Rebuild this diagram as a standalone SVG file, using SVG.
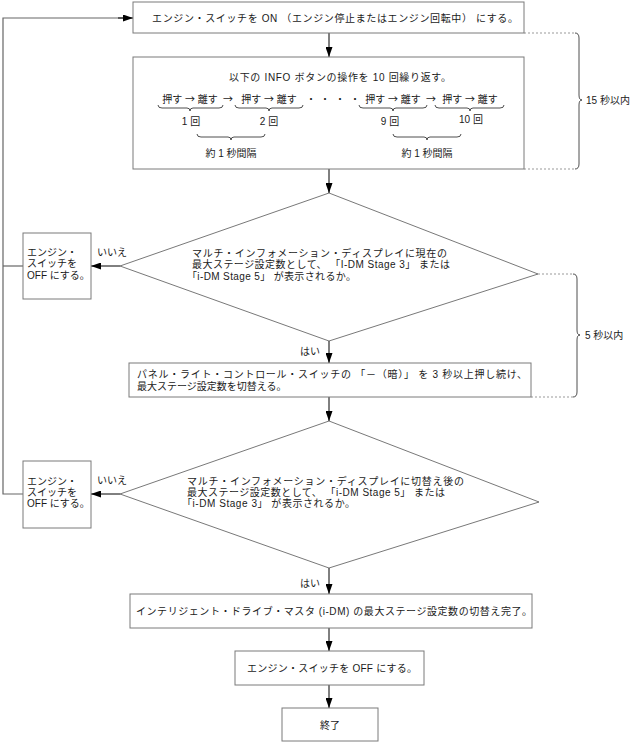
<svg xmlns="http://www.w3.org/2000/svg" width="632" height="742" viewBox="0 0 632 742">
<defs>
<style>
.box{fill:#fff;stroke:#7a7a7a;stroke-width:1}
.dia{fill:#fff;stroke:#555;stroke-width:0.8}
.t{font-family:"Liberation Sans","Noto Sans CJK JP",sans-serif;font-size:10px;fill:#1a1a1a}
.ar{font-family:"Noto Sans CJK JP",sans-serif}
.m{text-anchor:middle}
.c{stroke:#000;stroke-width:1;fill:none}
.loop{stroke:#666;stroke-width:1.2;fill:none}
.dash{stroke:#999;stroke-width:1;stroke-dasharray:2 2;fill:none}
.br{stroke:#222;stroke-width:0.8;fill:none}
</style>
<marker id="ah" markerUnits="userSpaceOnUse" markerWidth="10" markerHeight="7" refX="10" refY="3.5" orient="auto">
<path d="M0,0 L10,3.5 L0,7 z" fill="#000"/>
</marker>
</defs>
<rect width="632" height="742" fill="#fff"/>

<g id="connectors">
<path class="loop" d="M23,494 H3 V18 H123"/>
<path class="c" d="M118,18 H133" marker-end="url(#ah)"/>
<path class="loop" d="M23,266 H3"/>
<path class="c" d="M329,33 V57" marker-end="url(#ah)"/>
<path class="c" d="M329,169 V193" marker-end="url(#ah)"/>
<path class="c" d="M329,341 V363" marker-end="url(#ah)"/>
<text class="t" x="300" y="354.5">はい</text>
<path class="c" d="M329,397 V421" marker-end="url(#ah)"/>
<path class="c" d="M329,568 V594" marker-end="url(#ah)"/>
<text class="t" x="300" y="586.5">はい</text>
<path class="c" d="M329,628 V651" marker-end="url(#ah)"/>
<path class="c" d="M329,685 V708" marker-end="url(#ah)"/>
<path class="c" d="M120,266 H91" marker-end="url(#ah)"/>
<text class="t" x="97" y="255.5">いいえ</text>
<path class="c" d="M120,494 H91" marker-end="url(#ah)"/>
<text class="t" x="97" y="483.5">いいえ</text>
</g>

<g id="timing">
<path class="dash" d="M524,33 H575 M524,169 H575"/>
<path class="br" d="M575,33 Q579,33 579,38 V95 Q579,100 582,100 Q579,100 579,105 V164 Q579,169 575,169"/>
<text class="t" x="586" y="103.5">15 秒以内</text>
<path class="dash" d="M538,274 H573 M531,397 H573"/>
<path class="br" d="M573,274 Q577,274 577,279 V330 Q577,335 580,335 Q577,335 577,340 V392 Q577,397 573,397"/>
<text class="t" x="585" y="338.5">5 秒以内</text>
</g>

<g id="n-start">
<rect class="box" x="133" y="2" width="391" height="31"/>
<text class="t" x="152" y="21.5" textLength="366" lengthAdjust="spacing">エンジン・スイッチを ON （エンジン停止またはエンジン回転中） にする。</text>
</g>

<g id="n-info">
<rect class="box" x="133" y="57" width="391" height="112"/>
<text class="t" x="229" y="80.5" textLength="222" lengthAdjust="spacing">以下の INFO ボタンの操作を 10 回繰り返す。</text>
<text class="t m" x="190" y="102.5">押す <tspan class="ar">→</tspan> 離す</text>
<text class="t m ar" x="228" y="102.5">→</text>
<text class="t m" x="269" y="102.5">押す <tspan class="ar">→</tspan> 離す</text>
<text class="t m" x="311" y="102.5">・</text>
<text class="t m" x="325" y="102.5">・</text>
<text class="t m" x="340" y="102.5">・</text>
<text class="t m" x="355" y="102.5">・</text>
<text class="t m" x="393" y="102.5">押す <tspan class="ar">→</tspan> 離す</text>
<text class="t m ar" x="431" y="102.5">→</text>
<text class="t m" x="470" y="102.5">押す <tspan class="ar">→</tspan> 離す</text>
<path class="br" d="M158,105 Q158,108 162,108 H187 Q190,108 190,111 Q190,108 193,108 H219 Q223,108 223,105"/>
<path class="br" d="M235,105 Q235,108 239,108 H266 Q269,108 269,111 Q269,108 272,108 H299 Q303,108 303,105"/>
<path class="br" d="M359,105 Q359,108 363,108 H390 Q393,108 393,111 Q393,108 396,108 H423 Q427,108 427,105"/>
<path class="br" d="M435,105 Q435,108 439,108 H467 Q470,108 470,111 Q470,108 473,108 H500 Q504,108 504,105"/>
<text class="t m" x="191" y="124.5">1 回</text>
<text class="t m" x="269" y="124.5">2 回</text>
<text class="t m" x="390" y="124.5">9 回</text>
<text class="t m" x="471" y="123">10 回</text>
<path class="br" d="M197,134 Q197,137 201,137 H228 Q231,137 231,140 Q231,137 234,137 H261 Q265,137 265,134"/>
<path class="br" d="M393,134 Q393,137 397,137 H424 Q427,137 427,140 Q427,137 430,137 H457 Q461,137 461,134"/>
<text class="t m" x="231" y="156.5">約 1 秒間隔</text>
<text class="t m" x="427" y="156.5">約 1 秒間隔</text>
</g>

<g id="n-check1">
<polygon class="dia" points="329,193 538,274 329,341 120,266"/>
<text class="t" x="192" y="256.5" textLength="255" lengthAdjust="spacing">マルチ・インフォメーション・ディスプレイに現在の</text>
<text class="t" x="192" y="268" textLength="258" lengthAdjust="spacing">最大ステージ設定数として、 「I-DM Stage 3」 または</text>
<text class="t" x="187" y="279.5" textLength="169" lengthAdjust="spacing">「i-DM Stage 5」 が表示されるか。</text>
</g>

<g id="n-off1">
<rect class="box" x="23" y="233" width="68" height="66"/>
<text class="t" x="27" y="255.5">エンジン・</text>
<text class="t" x="27" y="267">スイッチを</text>
<text class="t" x="27" y="279">OFF にする。</text>
</g>

<g id="n-switch">
<rect class="box" x="129" y="363" width="402" height="34"/>
<text class="t" x="137" y="377.5" textLength="390" lengthAdjust="spacing">パネル・ライト・コントロール・スイッチの 「－（暗）」 を 3 秒以上押し続け、</text>
<text class="t" x="137" y="389.5">最大ステージ設定数を切替える。</text>
</g>

<g id="n-check2">
<polygon class="dia" points="329,421 539,502 329,568 120,494"/>
<text class="t" x="187" y="484.5" textLength="277" lengthAdjust="spacing">マルチ・インフォメーション・ディスプレイに切替え後の</text>
<text class="t" x="187" y="495.5" textLength="258" lengthAdjust="spacing">最大ステージ設定数として、 「i-DM Stage 5」 または</text>
<text class="t" x="182" y="506.5" textLength="173" lengthAdjust="spacing">「i-DM Stage 3」 が表示されるか。</text>
</g>

<g id="n-off2">
<rect class="box" x="23" y="461" width="68" height="67"/>
<text class="t" x="27" y="484.5">エンジン・</text>
<text class="t" x="27" y="495.5">スイッチを</text>
<text class="t" x="27" y="506.5">OFF にする。</text>
</g>

<g id="n-done">
<rect class="box" x="130" y="594" width="402" height="34"/>
<text class="t" x="136" y="614.5" textLength="396" lengthAdjust="spacing">インテリジェント・ドライブ・マスタ (i-DM) の最大ステージ設定数の切替え完了。</text>
</g>

<g id="n-off3">
<rect class="box" x="235" y="651" width="189" height="34"/>
<text class="t" x="247" y="672" textLength="170" lengthAdjust="spacing">エンジン・スイッチを OFF にする。</text>
</g>

<g id="n-end">
<rect class="box" x="282" y="708" width="96" height="33"/>
<text class="t m" x="330" y="729">終了</text>
</g>
</svg>
